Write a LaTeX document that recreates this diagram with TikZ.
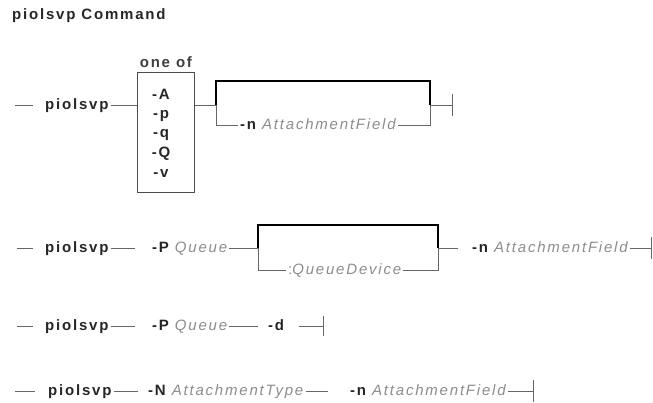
\documentclass[tikz,border=0pt]{standalone}
\usepackage{fontspec}
\setmainfont{Liberation Sans}[LetterSpace=12]
\usetikzlibrary{positioning}

\tikzset{
  kw/.style={font=\fontsize{15}{17}\selectfont\bfseries, text=black!85, inner sep=2pt,
    text height=11.5pt, text depth=2.5pt, anchor=west},
  arg/.style={font=\fontsize{15}{17}\selectfont\itshape, text=black!45, inner sep=2pt,
    text height=11.5pt, text depth=2.5pt, anchor=west},
  rail/.style={draw=black!60, line width=0.8pt},
  dflt/.style={draw=black, line width=2.8pt},
  endbar/.style={draw=black!60, line width=0.8pt},
  optbox/.style={draw=black!70, line width=0.8pt, minimum width=57pt, minimum height=120pt, inner sep=0pt, anchor=north west}
}
\newcommand{\argtxt}[1]{\textcolor{black!45}{\mdseries\itshape #1}}

\begin{document}
\begin{tikzpicture}[x=1pt, y=-1pt]
  \useasboundingbox (0,0) rectangle (653,403);

  %% Title
  \node[kw] (title) at (10,14.6) {piolsvp Command};

  %% Row 1 -- option set, optional field
  \coordinate (s1) at (15,105);
  \node[kw] (p1) at (43,105) {piolsvp};
  \node[optbox] (opts) at (137,72) {};
  \node[kw, text=black!75, above=0pt of opts] (oneof) {one of};
  \foreach \o/\y in {A/95, p/114, q/133, Q/153, v/173}
    \node[kw, anchor=center] (opt\o) at (161,\y) {-\o};
  \coordinate (j1) at (216,105);
  \coordinate (k1) at (430,105);
  \node[kw] (n1) at (238,125) {-n \argtxt{AttachmentField}};
  \coordinate (e1) at (452,105);

  \draw[rail, shorten >=10pt] (s1) -- (p1.west);
  \draw[rail] (p1.east) -- (p1.east -| opts.west);
  \draw[rail] (opts.east |- j1) -- (j1);
  \draw[dflt] (j1) -- ++(0,-24) -| (k1);
  \draw[rail] (j1) |- (n1.west);
  \draw[rail] (n1.east) -| (k1);
  \draw[rail] (k1) -- (e1);
  \draw[endbar] ([yshift=-11pt]e1) -- ([yshift=11pt]e1);

  %% Row 2 -- queue with optional device
  \coordinate (s2) at (17,248);
  \node[kw] (p2) at (43,248) {piolsvp};
  \node[kw] (pq2) at (150,248) {-P \argtxt{Queue}};
  \coordinate (j2) at (258,248);
  \coordinate (k2) at (438,248);
  \node[arg] (qd2) at (286,270) {\upshape:\itshape QueueDevice};
  \node[kw] (n2) at (470,248) {-n \argtxt{AttachmentField}};
  \coordinate (e2) at (651,248);

  \draw[rail, shorten >=10pt] (s2) -- (p2.west);
  \draw[rail, shorten >=15pt] (p2.east) -- (pq2.west);
  \draw[rail] (pq2.east) -- (j2);
  \draw[dflt] (j2) -- ++(0,-23) -| (k2);
  \draw[rail] (j2) |- (qd2.west);
  \draw[rail] (qd2.east) -| (k2);
  \draw[rail, shorten >=12pt] (k2) -- (n2.west);
  \draw[rail] (n2.east) -- (e2);
  \draw[endbar] ([yshift=-11pt]e2) -- ([yshift=11pt]e2);

  %% Row 3 -- queue, -d
  \coordinate (s3) at (17,326);
  \node[kw] (p3) at (43,326) {piolsvp};
  \node[kw] (pq3) at (150,326) {-P \argtxt{Queue}};
  \node[kw] (d3) at (266,326) {-d};
  \coordinate (e3) at (323,326);

  \draw[rail, shorten >=10pt] (s3) -- (p3.west);
  \draw[rail, shorten >=15pt] (p3.east) -- (pq3.west);
  \draw[rail, shorten >=8pt] (pq3.east) -- (d3.west);
  \draw[rail, shorten <=13pt] (d3.east) -- (e3);
  \draw[endbar] ([yshift=-10pt]e3) -- ([yshift=10pt]e3);

  %% Row 4 -- attachment type
  \coordinate (s4) at (15,391);
  \node[kw] (p4) at (46,391) {piolsvp};
  \node[kw] (t4) at (146,391) {-N \argtxt{AttachmentType}};
  \node[kw] (n4) at (348,391) {-n \argtxt{AttachmentField}};
  \coordinate (e4) at (533,391);

  \draw[rail, shorten >=11pt] (s4) -- (p4.west);
  \draw[rail, shorten >=8pt] (p4.east) -- (t4.west);
  \draw[rail, shorten >=20pt] (t4.east) -- (n4.west);
  \draw[rail] (n4.east) -- (e4);
  \draw[endbar] ([yshift=-11pt]e4) -- ([yshift=11pt]e4);
\end{tikzpicture}
\end{document}
